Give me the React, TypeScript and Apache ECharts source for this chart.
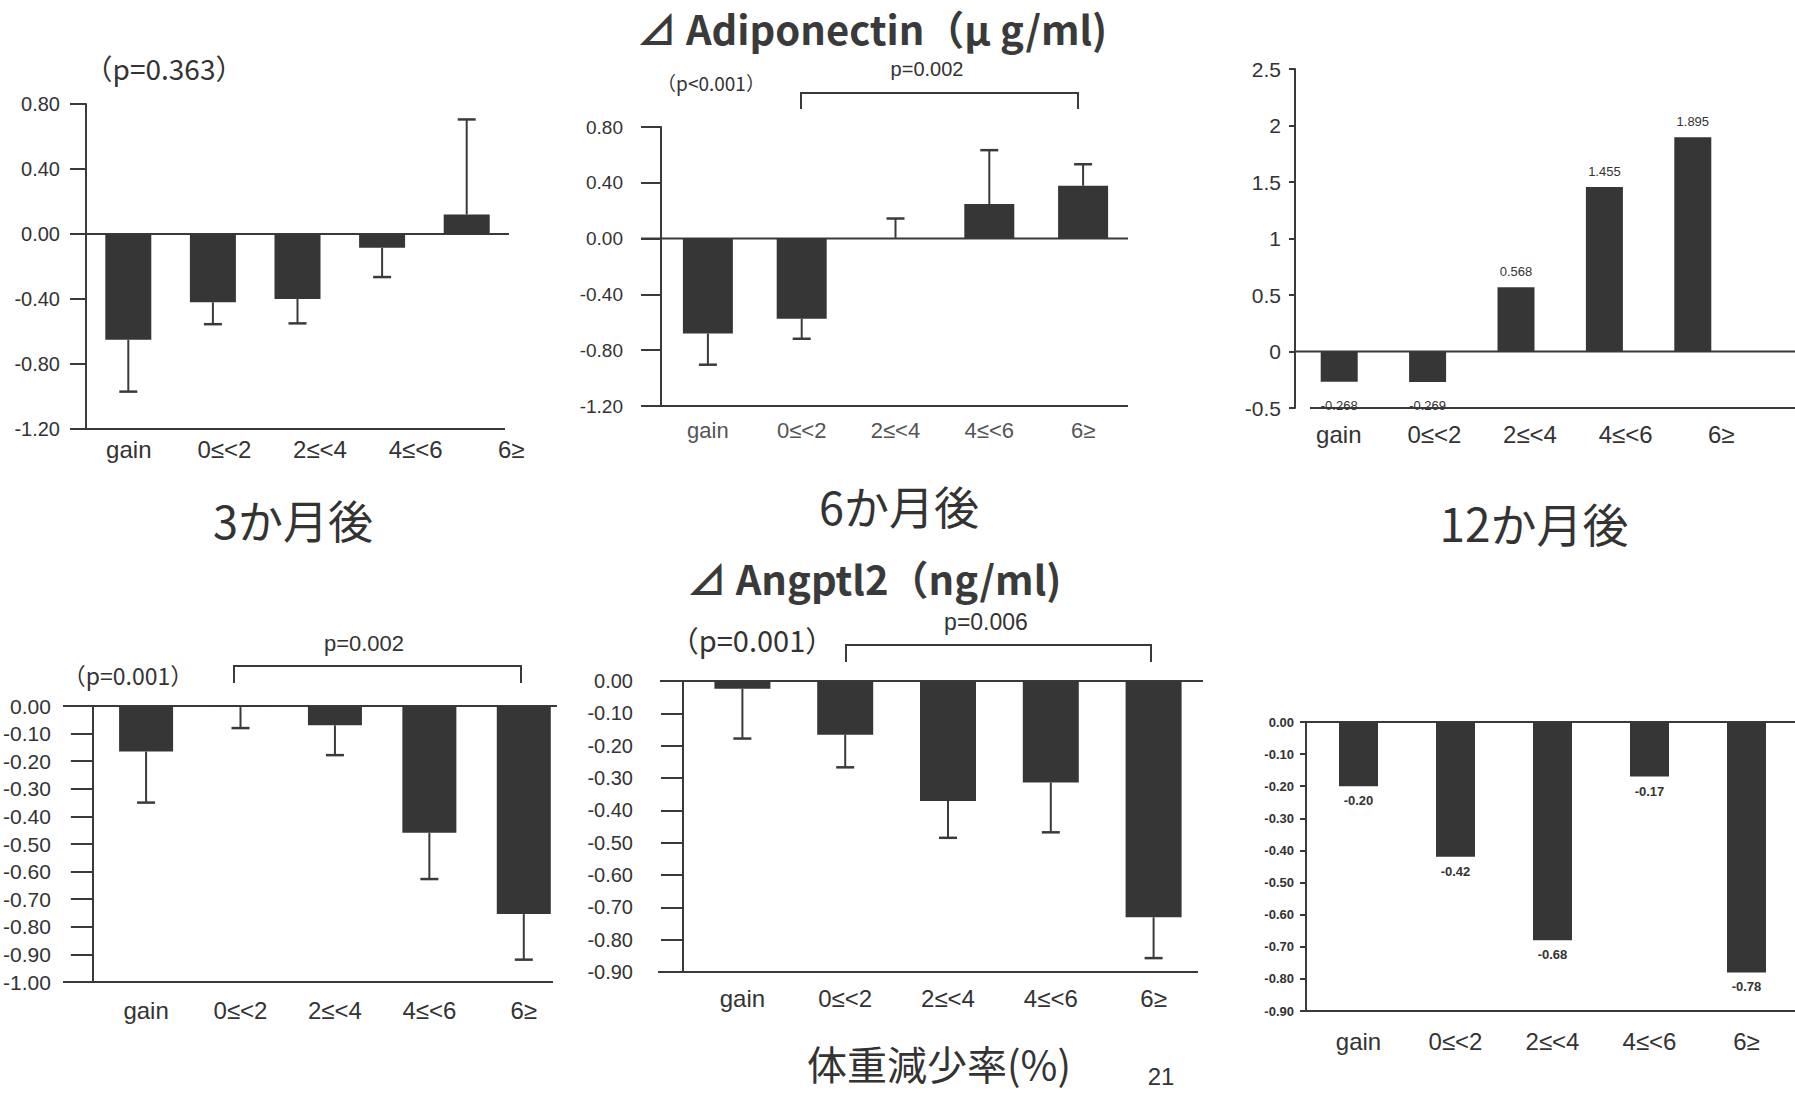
import React, { useEffect, useRef } from "react";
import * as echarts from "echarts";

// ---------- DATA ----------
const categories = ["gain", "0≤<2", "2≤<4", "4≤<6", "6≥"];

// ΔAdiponectin (μg/ml)
const adipo3m = [-0.65, -0.42, -0.4, -0.085, 0.12];
const adipo3mSE = [0.32, 0.135, 0.15, 0.18, 0.585];
const adipo6m = [-0.68, -0.575, 0.005, 0.248, 0.379];
const adipo6mSE = [0.224, 0.143, 0.139, 0.386, 0.154];
const adipo12m = [-0.268, -0.269, 0.568, 1.455, 1.895];

// ΔAngptl2 (ng/ml)
const angptl3m = [-0.165, -0.004, -0.07, -0.459, -0.754];
const angptl3mSE = [0.185, 0.076, 0.108, 0.168, 0.165];
const angptl6m = [-0.024, -0.166, -0.371, -0.314, -0.731];
const angptl6mSE = [0.154, 0.101, 0.114, 0.154, 0.126];
const angptl12m = [-0.2, -0.42, -0.68, -0.17, -0.78];

// ---------- STYLE ----------
const SANS = "'Liberation Sans', Arial, sans-serif";
const JP = "'Noto Sans CJK JP', 'Noto Sans', sans-serif";
const NARROW = "'Liberation Sans Narrow', 'Liberation Sans', sans-serif";
const BAR = "#363636";
const INK = "#3a3a3a";
const TXT = "#333";

type Panel = {
  values: number[];
  se?: number[];
  min: number;
  max: number;
  interval: number;
  decimals: number | null;
  left: number;
  top: number;
  width: number;
  height: number;
  yOffset: number;
  tickLen: number;
  labelMargin: number;
  tickFont: number;
  tickFamily: string;
  tickWeight: string;
  barW: number;
  catMargin: number;
  catFont: number;
  catColor: string;
  catGrid?: { left: number; width: number };
  zeroLine: [number, number];
  bottomLine: [number, number];
  dataLabels?: "p3" | "p6";
};

const panels: Panel[] = [
  {
    values: adipo3m, se: adipo3mSE, min: -1.2, max: 0.8, interval: 0.4, decimals: 2,
    left: 86, top: 104, width: 423, height: 325, yOffset: 0, tickLen: 16, labelMargin: 26,
    tickFont: 20, tickFamily: SANS, tickWeight: "normal", barW: 46, catMargin: 8, catFont: 24,
    catColor: TXT, catGrid: { left: 81, width: 478 }, zeroLine: [70, 509], bottomLine: [70, 505],
  },
  {
    values: adipo6m, se: adipo6mSE, min: -1.2, max: 0.8, interval: 0.4, decimals: 2,
    left: 661, top: 127, width: 469, height: 279, yOffset: 0, tickLen: 20, labelMargin: 38,
    tickFont: 19, tickFamily: SANS, tickWeight: "normal", barW: 50, catMargin: 13, catFont: 22,
    catColor: "#555", zeroLine: [641, 1128], bottomLine: [641, 1128],
  },
  {
    values: adipo12m, min: -0.5, max: 2.5, interval: 0.5, decimals: null,
    left: 1295, top: 69, width: 442, height: 339, yOffset: 0, tickLen: 6, labelMargin: 14,
    tickFont: 21, tickFamily: NARROW, tickWeight: "normal", barW: 37, catMargin: 14, catFont: 24,
    catColor: TXT, catGrid: { left: 1291, width: 478 }, zeroLine: [1294, 1795], bottomLine: [1310, 1795],
    dataLabels: "p3",
  },
  {
    values: angptl3m, se: angptl3mSE, min: -1.0, max: 0, interval: 0.1, decimals: 2,
    left: 91, top: 706, width: 480, height: 276, yOffset: 6, tickLen: 22, labelMargin: 42,
    tickFont: 21, tickFamily: SANS, tickWeight: "normal", barW: 54, catMargin: 16, catFont: 24,
    catColor: TXT, zeroLine: [63, 557], bottomLine: [63, 553],
  },
  {
    values: angptl6m, se: angptl6mSE, min: -0.9, max: 0, interval: 0.1, decimals: 2,
    left: 691, top: 681, width: 514, height: 291, yOffset: 8, tickLen: 22, labelMargin: 50,
    tickFont: 20, tickFamily: SANS, tickWeight: "normal", barW: 56, catMargin: 14, catFont: 24,
    catColor: TXT, zeroLine: [660, 1203], bottomLine: [658, 1198],
  },
  {
    values: angptl12m, min: -0.9, max: 0, interval: 0.1, decimals: 2,
    left: 1310, top: 722, width: 490, height: 289, yOffset: 4, tickLen: 6, labelMargin: 12,
    tickFont: 13, tickFamily: NARROW, tickWeight: "bold", barW: 39, catMargin: 18, catFont: 24,
    catColor: TXT, zeroLine: [1306, 1795], bottomLine: [1300, 1795], dataLabels: "p6",
  },
];

function fmt(v: number, d: number | null) {
  if (d === null) return String(Math.round(v * 10) / 10);
  return v.toFixed(d);
}

function buildOption() {
  const grid: any[] = [];
  const xAxis: any[] = [];
  const yAxis: any[] = [];
  const series: any[] = [];

  panels.forEach((p, i) => {
    grid.push({ left: p.left, top: p.top, width: p.width, height: p.height, containLabel: false });
    xAxis.push({
      type: "category", gridIndex: i, data: categories, position: "bottom",
      axisLine: { show: false, onZero: false }, axisTick: { show: false },
      axisLabel: {
        show: !p.catGrid, margin: p.catMargin, fontSize: p.catFont, color: p.catColor,
        fontFamily: SANS, interval: 0,
      },
      splitLine: { show: false },
    });
    yAxis.push({
      type: "value", gridIndex: i, min: p.min, max: p.max, interval: p.interval,
      offset: p.yOffset,
      axisLine: { show: true, lineStyle: { color: INK, width: 2 } },
      axisTick: { show: true, inside: false, length: p.tickLen, lineStyle: { color: INK, width: 2 } },
      axisLabel: {
        margin: p.labelMargin, fontSize: p.tickFont, fontFamily: p.tickFamily, color: TXT,
        fontWeight: p.tickWeight, formatter: (v: number) => fmt(v, p.decimals),
      },
      splitLine: { show: false },
    });

    const barData = p.values.map((v) => {
      const item: any = { value: v };
      if (p.dataLabels === "p3") {
        item.label = v >= 0
          ? { show: true, position: "top", distance: 9 }
          : { show: true, position: "bottom", distance: 17 };
      }
      if (p.dataLabels === "p6") {
        item.label = { show: true, position: "bottom", distance: 8 };
      }
      return item;
    });

    series.push({
      type: "bar", xAxisIndex: i, yAxisIndex: i, data: barData, barWidth: p.barW,
      itemStyle: { color: BAR },
      label: {
        show: false, fontSize: 13, fontFamily: NARROW, color: TXT,
        fontWeight: p.dataLabels === "p6" ? "bold" : "normal",
        formatter: (prm: any) => (p.dataLabels === "p3" ? prm.value.toFixed(3) : prm.value.toFixed(2)),
      },
      z: 2,
    });

    if (p.se) {
      const se = p.se;
      series.push({
        type: "custom", xAxisIndex: i, yAxisIndex: i, z: 3,
        data: p.values.map((m, k) => [k, m, m >= 0 ? m + se[k] : m - se[k]]),
        renderItem: (_params: any, api: any) => {
          const a = api.coord([api.value(0), api.value(1)]);
          const b = api.coord([api.value(0), api.value(2)]);
          const hw = 9;
          return {
            type: "group",
            children: [
              { type: "line", shape: { x1: a[0], y1: a[1], x2: b[0], y2: b[1] }, style: { stroke: INK, lineWidth: 2 } },
              { type: "line", shape: { x1: b[0] - hw, y1: b[1], x2: b[0] + hw, y2: b[1] }, style: { stroke: INK, lineWidth: 2.5 } },
            ],
          };
        },
      });
    }
  });

  // label-only axes for panels whose category texts are spread wider than the bars
  panels.forEach((p) => {
    if (!p.catGrid) return;
    const gi = grid.length;
    grid.push({ left: p.catGrid.left, top: p.top, width: p.catGrid.width, height: p.height });
    xAxis.push({
      type: "category", gridIndex: gi, data: categories, position: "bottom",
      axisLine: { show: false, onZero: false }, axisTick: { show: false },
      axisLabel: { show: true, margin: p.catMargin, fontSize: p.catFont, color: p.catColor, fontFamily: SANS, interval: 0 },
    });
    yAxis.push({ type: "value", gridIndex: gi, show: false, min: 0, max: 1 });
  });

  return { animation: false, backgroundColor: "#ffffff", grid, xAxis, yAxis, series };
}

function txt(x: number, y: number, text: string, size: number, family = SANS, weight = "normal", fill = TXT) {
  return {
    type: "text", x, y, silent: true,
    style: { text, fontSize: size, fontFamily: family, fontWeight: weight, fill, align: "center", verticalAlign: "middle" },
  };
}
function ln(x1: number, y1: number, x2: number, y2: number, w = 2) {
  return { type: "line", silent: true, shape: { x1, y1, x2, y2 }, style: { stroke: INK, lineWidth: w } };
}
function bracket(x1: number, x2: number, y: number, drop: number) {
  return {
    type: "polyline", silent: true,
    shape: { points: [[x1, y + drop], [x1, y], [x2, y], [x2, y + drop]] },
    style: { stroke: INK, lineWidth: 2, fill: null },
  };
}

export default function App() {
  const ref = useRef<HTMLDivElement>(null);
  useEffect(() => {
    document.body.style.margin = "0";
    const chart = echarts.init(ref.current!, undefined, { renderer: "svg" });
    chart.setOption(buildOption());

    const graphics: any[] = [];
    panels.forEach((p, i) => {
      const y0 = chart.convertToPixel({ yAxisIndex: i }, 0) as number;
      const yb = chart.convertToPixel({ yAxisIndex: i }, p.min) as number;
      graphics.push(ln(p.zeroLine[0], y0, p.zeroLine[1], y0, 2));
      if (Math.abs(yb - y0) > 1) graphics.push(ln(p.bottomLine[0], yb, p.bottomLine[1], yb, 2));
    });

    graphics.push(
      // top row
      txt(164, 68, "（p=0.363）", 28, JP),
      txt(872, 28, "⊿ Adiponectin（μ g/ml)", 40, JP, "bold", "#3a3a3a"),
      txt(927, 69, "p=0.002", 20),
      txt(711, 82, "（p<0.001）", 19, JP),
      bracket(801, 1078, 93, 16),
      txt(293, 519, "3か月後", 45, JP, "normal"),
      txt(899, 505, "6か月後", 45, JP, "normal"),
      txt(1534, 522, "12か月後", 46, JP, "normal"),
      // bottom row
      txt(128, 675, "（p=0.001）", 23, JP),
      txt(364, 643, "p=0.002", 22),
      bracket(234, 521, 666, 17),
      txt(874, 578, "⊿ Angptl2（ng/ml)", 40, JP, "bold", "#3a3a3a"),
      txt(986, 622, "p=0.006", 23),
      txt(752, 639, "（p=0.001）", 29, JP),
      bracket(846, 1151, 645, 17),
      txt(939, 1063, "体重減少率(%)", 40, JP, "normal"),
      txt(1161, 1076, "21", 24, SANS),
    );
    chart.setOption({ graphic: graphics });

    return () => chart.dispose();
  }, []);

  return (
    <div
      ref={ref}
      style={{ position: "absolute", left: 0, top: 0, width: 1795, height: 1093, background: "#fff" }}
    />
  );
}
